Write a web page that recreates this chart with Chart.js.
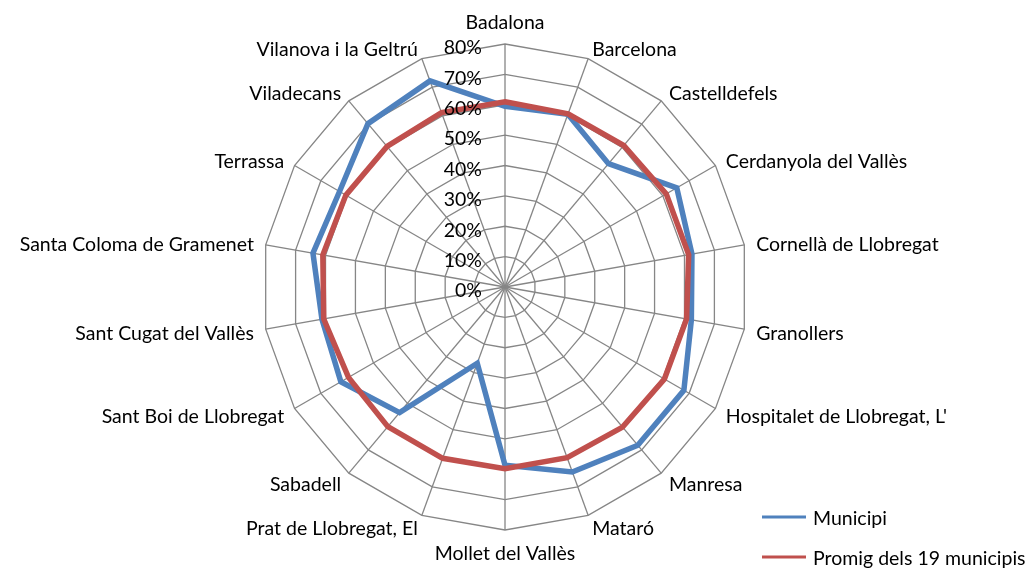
<!DOCTYPE html>
<html>
<head>
<meta charset="utf-8">
<script src="https://cdn.jsdelivr.net/npm/chart.js@4/dist/chart.umd.min.js"></script>
<style>
html,body{margin:0;padding:0;background:#ffffff;}
#c{display:block;}
</style>
</head>
<body>
<canvas id="c" width="1030" height="568"></canvas>
<script>
// ---- data ----
const categories = [
  'Badalona', 'Barcelona', 'Castelldefels', 'Cerdanyola del Vallès',
  'Cornellà de Llobregat', 'Granollers', "Hospitalet de Llobregat, L'",
  'Manresa', 'Mataró', 'Mollet del Vallès', 'Prat de Llobregat, El',
  'Sabadell', 'Sant Boi de Llobregat', 'Sant Cugat del Vallès',
  'Santa Coloma de Gramenet', 'Terrassa', 'Viladecans', 'Vilanova i la Geltrú'
];
const municipi = [59.5, 60.5, 53.0, 65.3, 62.5, 62.3, 68.0, 68.0, 64.8, 58.7, 26.7, 54.0, 62.4, 61.2, 64.2, 62.9, 70.2, 72.2];
const promig   = [61.0, 60.7, 60.8, 61.3, 61.4, 60.7, 60.6, 60.2, 59.8, 59.8, 60.0, 60.0, 59.5, 60.6, 60.9, 60.5, 60.4, 61.1];
const seriesNames = ['Municipi', 'Promig dels 19 municipis'];
const tickValues = [0, 10, 20, 30, 40, 50, 60, 70, 80];

const FONT = '19.5px Lato';
const BLUE = '#4F81BD';
const RED = '#C0504D';
const GRID = '#868686';

const textPlugin = {
  id: 'excelText',
  afterDraw(chart) {
    const s = chart.scales.r;
    const ctx = chart.ctx;
    ctx.save();
    ctx.font = FONT;
    ctx.fillStyle = '#000000';
    // value ticks, left of the vertical axis
    ctx.textAlign = 'right';
    ctx.textBaseline = 'middle';
    tickValues.forEach(v => {
      const d = s.getDistanceFromCenterForValue(v);
      ctx.fillText(v + '%', s.xCenter - 23, s.yCenter - d + 4);
    });
    // category labels around the polygon
    const R = s.drawingArea;
    chart.data.labels.forEach((lab, i) => {
      const a = s.getIndexAngle(i);
      const sn = Math.sin(a), cs = Math.cos(a);
      const p = s.getPointPosition(i, R + 12);
      if (Math.abs(sn) < 0.1) {
        ctx.textAlign = 'center';
        ctx.textBaseline = cs > 0 ? 'bottom' : 'top';
        ctx.fillText(lab, p.x, p.y + (cs > 0 ? 0 : 2));
      } else {
        ctx.textAlign = sn > 0 ? 'left' : 'right';
        ctx.textBaseline = 'middle';
        ctx.fillText(lab, p.x, p.y + 2);
      }
    });
    // legend
    const lx = 762, ly = 517, dy = 40;
    chart.data.datasets.forEach((ds, k) => {
      const y = ly + k * dy;
      ctx.strokeStyle = ds.borderColor;
      ctx.lineWidth = 3;
      ctx.beginPath();
      ctx.moveTo(lx, y);
      ctx.lineTo(lx + 44, y);
      ctx.stroke();
      ctx.textAlign = 'left';
      ctx.textBaseline = 'middle';
      ctx.fillText(ds.label, lx + 51, y + 2);
    });
    ctx.restore();
  }
};

new Chart(document.getElementById('c'), {
  type: 'radar',
  data: {
    labels: categories,
    datasets: [
      { label: seriesNames[0], data: municipi, borderColor: BLUE, backgroundColor: 'transparent',
        borderWidth: 5.5, pointRadius: 0, fill: false, tension: 0, order: 1 },
      { label: seriesNames[1], data: promig, borderColor: RED, backgroundColor: 'transparent',
        borderWidth: 5.5, pointRadius: 0, fill: false, tension: 0, order: 0 }
    ]
  },
  options: {
    responsive: false,
    devicePixelRatio: 1,
    animation: false,
    layout: { padding: { left: 262, right: 282, top: 44, bottom: 38 } },
    plugins: { legend: { display: false }, tooltip: { enabled: false } },
    elements: { line: { borderJoinStyle: 'miter' } },
    scales: {
      r: {
        min: 0, max: 80,
        ticks: { display: false, stepSize: 10 },
        pointLabels: { display: false },
        grid: { color: GRID, lineWidth: 1.3, circular: false },
        angleLines: { color: GRID, lineWidth: 1.3 }
      }
    }
  },
  plugins: [textPlugin]
});
</script>
</body>
</html>
